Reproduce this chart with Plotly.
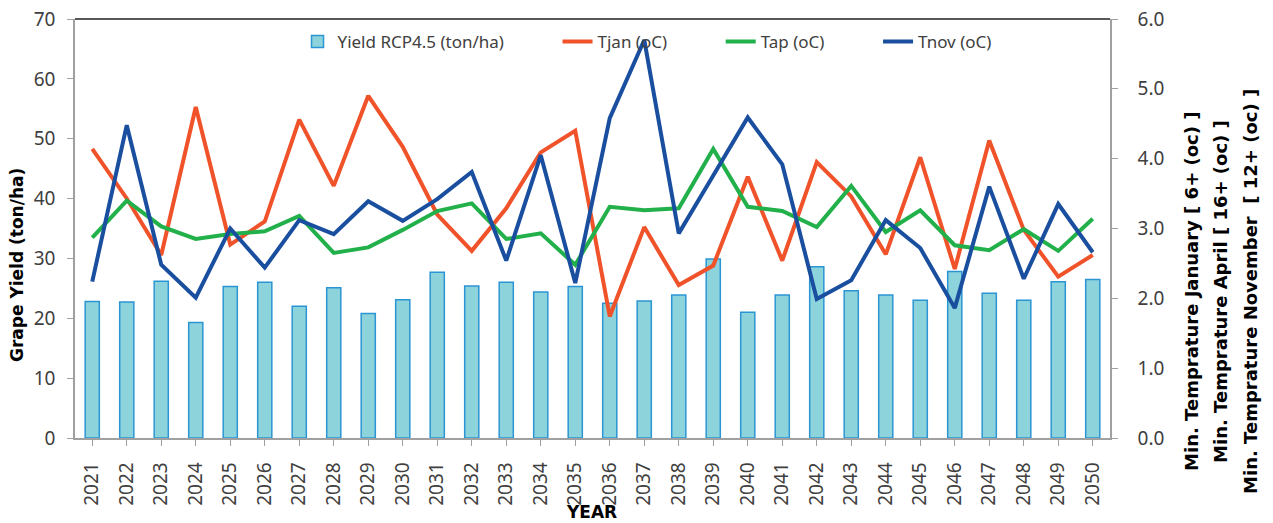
# Grape yield (RCP4.5) with minimum monthly temperatures, 2021-2050
import plotly.graph_objects as go

years = [str(y) for y in range(2021, 2051)]

yield_rcp45 = [22.8, 22.7, 26.2, 19.3, 25.3, 26.0, 22.0, 25.1, 20.8, 23.1,
               27.7, 25.4, 26.0, 24.4, 25.3, 22.5, 22.9, 23.9, 29.9, 21.0,
               23.9, 28.6, 24.6, 23.9, 23.0, 27.8, 24.2, 23.0, 26.1, 26.5]

t_jan = [4.14, 3.43, 2.62, 4.74, 2.77, 3.10, 4.56, 3.61, 4.90, 4.17,
         3.20, 2.68, 3.29, 4.09, 4.40, 1.74, 3.02, 2.19, 2.47, 3.74,
         2.54, 3.95, 3.46, 2.63, 4.02, 2.42, 4.26, 2.98, 2.31, 2.62]

t_apr = [2.87, 3.40, 3.03, 2.85, 2.92, 2.96, 3.18, 2.65, 2.73, 2.98,
         3.25, 3.36, 2.85, 2.93, 2.48, 3.31, 3.26, 3.29, 4.14, 3.31,
         3.25, 3.02, 3.61, 2.95, 3.26, 2.76, 2.69, 2.99, 2.68, 3.14]

t_nov = [2.24, 4.48, 2.48, 2.01, 3.00, 2.44, 3.12, 2.92, 3.39, 3.11,
         3.42, 3.81, 2.54, 4.05, 2.22, 4.58, 5.70, 2.93, 3.76, 4.59,
         3.92, 1.99, 2.26, 3.12, 2.72, 1.86, 3.60, 2.28, 3.35, 2.66]

right_titles = ["Min. Temprature January [ 6+ (oc) ]",
                "Min. Temprature April [ 16+ (oc) ]",
                "Min. Temprature November  [ 12+ (oc) ]"]

# non-breaking spaces widen the legend entries like the original
pad = "\u00a0"

fig = go.Figure()

fig.add_trace(go.Bar(
    x=years, y=yield_rcp45, name="Yield RCP4.5 (ton/ha)" + pad * 11,
    marker=dict(color="#8DD3DC", line=dict(color="#2B95D3", width=1.5)),
    width=0.41,
))

# temperature lines on the secondary axis
for name, vals, colour, n_pad in [("Tjan (oC)", t_jan, "#F0522A", 11),
                                  ("Tap (oC)", t_apr, "#22B04B", 11),
                                  ("Tnov (oC)", t_nov, "#1A4FA0", 0)]:
    fig.add_trace(go.Scatter(
        x=years, y=vals, name=name + pad * n_pad, yaxis="y2", mode="lines",
        line=dict(color=colour, width=4),
    ))

axis_style = dict(showline=True, linecolor="#A0A0A0", linewidth=1.5,
                  ticks="outside", ticklen=6, tickcolor="#A0A0A0",
                  showgrid=False, zeroline=False, automargin=False,
                  ticklabeloverflow="allow")

# the page body adds an 8px offset, so the figure is 8px smaller each way
fig.update_layout(
    width=1265, height=515,
    margin=dict(l=67, r=163, t=11, b=85, autoexpand=False),
    paper_bgcolor="white", plot_bgcolor="white",
    showlegend=True,
    legend=dict(orientation="h", x=0.215, y=0.945, xanchor="left", yanchor="middle",
                font=dict(family="Noto Sans", size=17, color="#404040"),
                bgcolor="rgba(0,0,0,0)"),
    xaxis=dict(type="category", range=[-0.5, 29.5], tickangle=-90,
               tickfont=dict(family="Noto Sans", size=19, color="#404040"),
               ticklabelstandoff=9, **axis_style),
    yaxis=dict(range=[0, 70], dtick=10, ticklabelstandoff=8,
               tickfont=dict(family="Noto Sans", size=19, color="#404040"),
               **axis_style),
    yaxis2=dict(range=[0, 6], dtick=1, tickformat=".1f", overlaying="y",
                side="right", ticklabelstandoff=16,
                tickfont=dict(family="Noto Sans", size=19, color="#404040"),
                **axis_style),
)

# dark top border of the plot area
fig.add_shape(type="line", xref="paper", yref="paper", x0=0, x1=1, y0=1, y1=1,
              line=dict(color="#202020", width=1.5))

fig.add_annotation(text="<b>Grape Yield (ton/ha)</b>", textangle=-90,
                   xref="paper", yref="paper", x=-0.056, y=0.413,
                   xanchor="center", yanchor="middle", showarrow=False,
                   font=dict(family="DejaVu Sans", size=17, color="black"))
fig.add_annotation(text="<b>YEAR</b>", xref="paper", yref="paper",
                   x=0.4995, y=-0.1766, xanchor="center", yanchor="middle",
                   showarrow=False,
                   font=dict(family="DejaVu Sans", size=17, color="black"))

# right axis title, one annotation per line
for title, xp in zip(right_titles, [1.0792, 1.1072, 1.1362]):
    fig.add_annotation(text="<b>" + title + "</b>", textangle=-90,
                       xref="paper", yref="paper", x=xp, y=0.351,
                       xanchor="center", yanchor="middle", showarrow=False,
                       font=dict(family="DejaVu Sans", size=18, color="black"))

fig.write_html("out.html")
